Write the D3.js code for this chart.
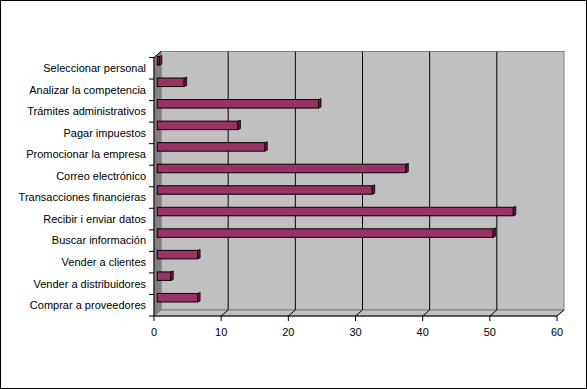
<!DOCTYPE html>
<html>
<head>
<meta charset="utf-8">
<script src="https://cdn.jsdelivr.net/npm/d3@7"></script>
<style>
  body { margin: 0; background: #fff; }
  text { font-family: "Liberation Sans", Arial, sans-serif; font-size: 11px; fill: #000; }
</style>
</head>
<body>
<div id="chart"></div>
<script>
// categories from bottom to top, as in the original sheet
var categories = [
  "Comprar a proveedores",
  "Vender a distribuidores",
  "Vender a clientes",
  "Buscar información",
  "Recibir i enviar datos",
  "Transacciones financieras",
  "Correo electrónico",
  "Promocionar la empresa",
  "Pagar impuestos",
  "Trámites administrativos",
  "Analizar la competencia",
  "Seleccionar personal"
];
var values = [6, 2, 6, 50, 53, 32, 37, 16, 12, 24, 4, 0.3];
var xTicks = [0, 10, 20, 30, 40, 50, 60];

var width = 587, height = 389;
var dx = 7, dy = -6; // depth of the 3d floor / wall

var svg = d3.select("#chart")
  .append("svg")
  .attr("width", width)
  .attr("height", height);

// outer border
svg.append("rect")
  .attr("x", 0.5).attr("y", 0.5)
  .attr("width", width - 1).attr("height", height - 1)
  .attr("fill", "#fff").attr("stroke", "#000");

var x = d3.scaleLinear().domain([0, 60]).range([154, 557]);
var y = d3.scaleBand()
  .domain(categories.slice().reverse())
  .range([57.5, 316]);

var plotTop = y.range()[0], plotBottom = y.range()[1];
var x0 = x(0), x1 = x(60);

// back wall
svg.append("rect")
  .attr("x", x0 + dx).attr("y", plotTop + dy)
  .attr("width", x1 - x0).attr("height", plotBottom - plotTop)
  .attr("fill", "#c0c0c0").attr("stroke", "#808080");

// left wall
svg.append("polygon")
  .attr("points", [[x0, plotTop], [x0 + dx, plotTop + dy], [x0 + dx, plotBottom + dy], [x0, plotBottom]].join(" "))
  .attr("fill", "#808080").attr("stroke", "#808080");

// floor
svg.append("polygon")
  .attr("points", [[x0, plotBottom], [x0 + dx, plotBottom + dy], [x1 + dx, plotBottom + dy], [x1, plotBottom]].join(" "))
  .attr("fill", "#c0c0c0").attr("stroke", "#808080");

// gridlines on wall and floor
var grid = svg.append("g").attr("stroke", "#000").attr("fill", "none");
xTicks.slice(1, -1).forEach(function (t) {
  grid.append("path")
    .attr("d", "M" + (x(t) + dx) + "," + (plotTop + dy) +
               "V" + (plotBottom + dy) +
               "L" + x(t) + "," + plotBottom);
});
xTicks.slice(-1).forEach(function (t) {
  grid.append("path")
    .attr("d", "M" + (x(t) + dx) + "," + (plotBottom + dy) + "L" + x(t) + "," + plotBottom);
});
grid.append("path")
  .attr("d", "M" + x0 + "," + plotTop + "L" + (x0 + dx) + "," + (plotTop + dy));

// bars
var bh = 8.5, bd = 2.5, bu = 1;
var bars = svg.append("g");
categories.forEach(function (c, i) {
  var v = values[i];
  var xs = x0 + 3.3, xe = x(v) + 3.3;
  var yt = y(c) - 1, yb = yt + bh;
  // front face
  bars.append("rect")
    .attr("x", xs).attr("y", yt)
    .attr("width", xe - xs).attr("height", bh)
    .attr("fill", "#993366").attr("stroke", "#000");
  // end cap
  bars.append("polygon")
    .attr("points", [[xe, yt], [xe + bd, yt - bu], [xe + bd, yb - bu], [xe, yb]].join(" "))
    .attr("fill", "#5c1f3d").attr("stroke", "#000").attr("stroke-width", 0.8);
});

// category axis
var yAxis = svg.append("g").attr("stroke", "#000");
yAxis.append("line")
  .attr("x1", x0).attr("x2", x0)
  .attr("y1", plotTop).attr("y2", plotBottom);
y.domain().concat([null]).forEach(function (c) {
  var yy = c === null ? plotBottom : y(c);
  yAxis.append("line")
    .attr("x1", x0 - 5).attr("x2", x0)
    .attr("y1", yy).attr("y2", yy);
});
svg.append("g").selectAll("text")
  .data(categories)
  .enter()
  .append("text")
  .attr("x", 146)
  .attr("y", function (d) { return y(d) + y.bandwidth() / 2; })
  .attr("dy", "0.35em")
  .attr("text-anchor", "end")
  .text(function (d) { return d; });

// value axis
var xAxis = svg.append("g").attr("stroke", "#000");
xAxis.append("line")
  .attr("x1", x0).attr("x2", x1)
  .attr("y1", plotBottom).attr("y2", plotBottom);
xTicks.forEach(function (t) {
  xAxis.append("line")
    .attr("x1", x(t)).attr("x2", x(t))
    .attr("y1", plotBottom).attr("y2", plotBottom + 5);
});
svg.append("g").selectAll("text")
  .data(xTicks)
  .enter()
  .append("text")
  .attr("x", function (d) { return x(d); })
  .attr("y", 332)
  .attr("dy", "0.35em")
  .attr("text-anchor", "middle")
  .text(function (d) { return d; });
</script>
</body>
</html>
